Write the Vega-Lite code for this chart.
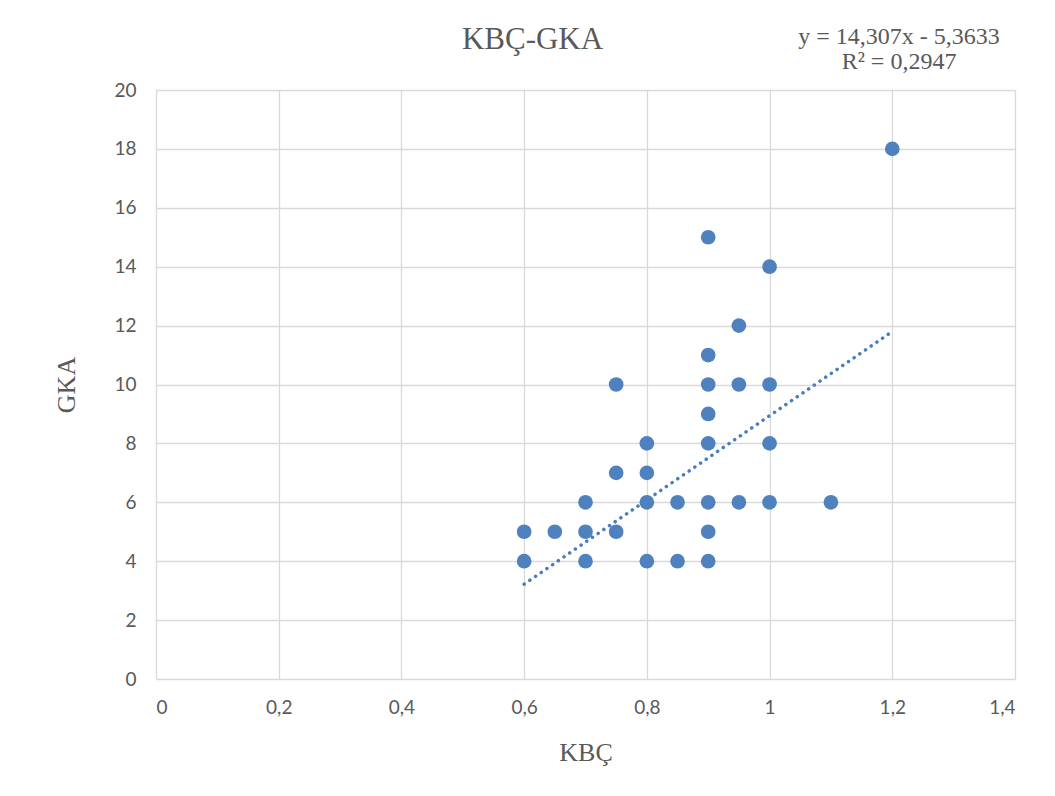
{
  "$schema": "https://vega.github.io/schema/vega-lite/v6.json",
  "autosize": "none",
  "width": 859,
  "height": 589,
  "padding": {"left": 156, "top": 90, "right": 40, "bottom": 117},
  "background": "white",
  "title": {"text": "KBÇ-GKA", "font": "Liberation Serif", "fontSize": 31, "fontWeight": "normal", "color": "#595959", "anchor": "middle", "frame": "group", "dx": -53, "offset": -31},
  "datasets": {
    "pts": [
      {"KBC": 0.6, "GKA": 5}, {"KBC": 0.6, "GKA": 4}, {"KBC": 0.65, "GKA": 5},
      {"KBC": 0.7, "GKA": 6}, {"KBC": 0.7, "GKA": 5}, {"KBC": 0.7, "GKA": 4},
      {"KBC": 0.75, "GKA": 10}, {"KBC": 0.75, "GKA": 7}, {"KBC": 0.75, "GKA": 5},
      {"KBC": 0.8, "GKA": 8}, {"KBC": 0.8, "GKA": 7}, {"KBC": 0.8, "GKA": 6}, {"KBC": 0.8, "GKA": 4},
      {"KBC": 0.85, "GKA": 6}, {"KBC": 0.85, "GKA": 4},
      {"KBC": 0.9, "GKA": 15}, {"KBC": 0.9, "GKA": 11}, {"KBC": 0.9, "GKA": 10}, {"KBC": 0.9, "GKA": 9},
      {"KBC": 0.9, "GKA": 8}, {"KBC": 0.9, "GKA": 6}, {"KBC": 0.9, "GKA": 5}, {"KBC": 0.9, "GKA": 4},
      {"KBC": 0.95, "GKA": 12}, {"KBC": 0.95, "GKA": 10}, {"KBC": 0.95, "GKA": 6},
      {"KBC": 1.0, "GKA": 14}, {"KBC": 1.0, "GKA": 10}, {"KBC": 1.0, "GKA": 8}, {"KBC": 1.0, "GKA": 6},
      {"KBC": 1.1, "GKA": 6}, {"KBC": 1.2, "GKA": 18}
    ],
    "trend": [
      {"KBC": 0.6, "GKA": 3.22},
      {"KBC": 1.2, "GKA": 11.8}
    ],
    "eq": [
      {"KBC": 1.211, "GKA": 21.8, "label": "y = 14,307x - 5,3633"},
      {"KBC": 1.211, "GKA": 20.95, "label": "R² = 0,2947"}
    ]
  },
  "encoding": {
    "x": {
      "field": "KBC", "type": "quantitative",
      "scale": {"domain": [0, 1.4], "nice": false, "zero": false},
      "axis": {
        "title": "KBÇ", "values": [0, 0.2, 0.4, 0.6, 0.8, 1, 1.2, 1.4],
        "labelExpr": "replace(format(datum.value, '~g'), '.', ',')",
        "grid": true, "gridColor": "#d9d9d9", "gridWidth": 1.3,
        "domain": false, "ticks": false,
        "labelFont": "Lato", "labelFontSize": 19, "labelColor": "#595959", "labelPadding": 19,
        "titleFont": "Liberation Serif", "titleFontSize": 26, "titleFontWeight": "normal", "titleColor": "#595959", "titlePadding": 22
      }
    },
    "y": {
      "field": "GKA", "type": "quantitative",
      "scale": {"domain": [0, 20], "nice": false},
      "axis": {
        "title": "GKA", "values": [0, 2, 4, 6, 8, 10, 12, 14, 16, 18, 20],
        "grid": true, "gridColor": "#d9d9d9", "gridWidth": 1.3,
        "domain": false, "ticks": false,
        "labelFont": "Lato", "labelFontSize": 19, "labelColor": "#595959", "labelPadding": 20,
        "titleFont": "Liberation Serif", "titleFontSize": 26, "titleFontWeight": "normal", "titleColor": "#595959", "titlePadding": 34
      }
    }
  },
  "layer": [
    {
      "data": {"name": "trend"},
      "mark": {"type": "line", "color": "#4a7ebb", "strokeWidth": 3.5, "strokeDash": [0.1, 6.8], "strokeCap": "round"}
    },
    {
      "data": {"name": "pts"},
      "mark": {"type": "circle", "color": "#4e81bd", "size": 215, "opacity": 1}
    },
    {
      "data": {"name": "eq"},
      "mark": {"type": "text", "font": "Liberation Serif", "fontSize": 24, "color": "#595959", "align": "center", "baseline": "middle", "clip": false},
      "encoding": {"text": {"field": "label"}}
    }
  ],
  "config": {"view": {"stroke": null}}
}
